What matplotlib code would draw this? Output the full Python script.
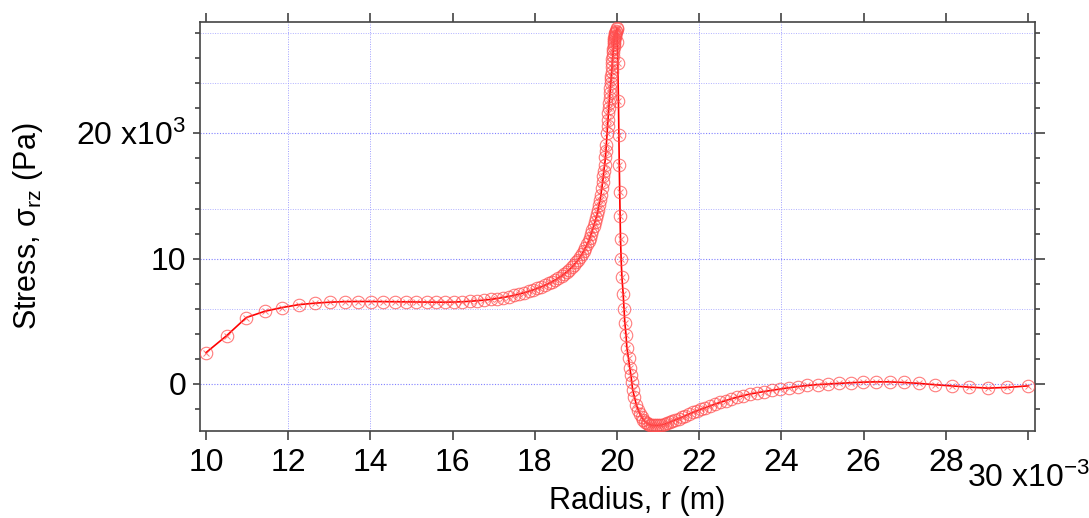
import numpy as np
import matplotlib.pyplot as plt
from matplotlib.ticker import MultipleLocator, FixedLocator

plt.rcParams['font.family'] = ['Liberation Sans', 'DejaVu Sans']
plt.rcParams['mathtext.default'] = 'regular'

# radius (x10^-3 m) and shear stress (x10^3 Pa)
r_left = [10.00, 10.50, 10.98, 11.43, 11.85, 12.26, 12.65, 13.02, 13.37, 13.70,
          14.01, 14.31, 14.60, 14.87, 15.12, 15.37, 15.60, 15.82, 16.03, 16.23,
          16.42, 16.59, 16.76, 16.93, 17.08, 17.23, 17.36, 17.49, 17.62, 17.74,
          17.85, 17.96, 18.06, 18.15, 18.25, 18.34, 18.42, 18.50, 18.57, 18.65,
          18.71, 18.78, 18.84, 18.90, 18.95, 19.01, 19.06, 19.10, 19.15, 19.19,
          19.23, 19.27, 19.31, 19.34, 19.37, 19.40, 19.43, 19.46, 19.49, 19.52,
          19.54, 19.56, 19.59, 19.61, 19.63, 19.65, 19.67, 19.68, 19.70, 19.72,
          19.73, 19.74, 19.76, 19.77, 19.78, 19.79, 19.80, 19.81, 19.82, 19.83,
          19.84, 19.85, 19.86, 19.865, 19.87, 19.88, 19.885, 19.89, 19.90, 19.905,
          19.91, 19.915, 19.92, 19.925, 19.93, 19.935, 19.94, 19.945, 19.95, 19.96,
          19.97, 19.98, 19.99, 20.00]
s_left = [2.50, 3.85, 5.30, 5.80, 6.10, 6.33, 6.45, 6.53, 6.57, 6.58,
          6.58, 6.57, 6.56, 6.55, 6.54, 6.53, 6.53, 6.53, 6.54, 6.56,
          6.60, 6.64, 6.69, 6.75, 6.82, 6.90, 6.98, 7.07, 7.17, 7.28,
          7.39, 7.51, 7.63, 7.75, 7.88, 8.02, 8.16, 8.31, 8.46, 8.62,
          8.78, 8.95, 9.13, 9.32, 9.51, 9.72, 9.93, 10.15, 10.38, 10.62,
          10.87, 11.13, 11.40, 11.68, 11.97, 12.27, 12.58, 12.90, 13.23, 13.57,
          13.92, 14.28, 14.65, 15.10, 15.60, 16.10, 16.60, 17.00, 17.50, 18.10,
          18.60, 19.10, 20.00, 20.60, 21.10, 21.60, 22.00, 22.40, 22.80, 23.20,
          23.60, 24.00, 24.30, 24.60, 24.90, 25.30, 25.60, 25.90, 26.20, 26.50,
          26.70, 26.90, 27.10, 27.30, 27.45, 27.60, 27.70, 27.80, 27.90, 28.00,
          28.10, 28.20, 28.30, 28.40]

r_right = [20.01, 20.02, 20.035, 20.045, 20.055, 20.065, 20.075, 20.085, 20.10, 20.12,
           20.15, 20.17, 20.19, 20.22, 20.24, 20.28, 20.31, 20.34, 20.36, 20.38,
           20.42, 20.47, 20.52, 20.56, 20.60, 20.64, 20.68, 20.72, 20.76, 20.80,
           20.85, 20.90, 20.95, 21.00, 21.05, 21.10, 21.16, 21.22, 21.28, 21.35,
           21.42, 21.50, 21.58, 21.66, 21.75, 21.85, 21.94, 22.04, 22.15, 22.26,
           22.38, 22.51, 22.64, 22.77, 22.92, 23.07, 23.24, 23.41, 23.58, 23.77,
           23.97, 24.18, 24.40, 24.63, 24.88, 25.13, 25.40, 25.69, 25.99, 26.30,
           26.63, 26.98, 27.35, 27.74, 28.15, 28.57, 29.02, 29.50, 30.00]
s_right = [27.3, 25.6, 22.6, 19.9, 17.5, 15.3, 13.4, 11.6, 10.0, 8.5,
           7.2, 6.0, 4.9, 3.9, 2.9, 2.05, 1.3, 0.7, 0.15, -0.45,
           -1.0, -1.65, -2.1, -2.4, -2.65, -2.85, -3.0, -3.1, -3.18, -3.24,
           -3.28, -3.30, -3.31, -3.30, -3.28, -3.25, -3.20, -3.13, -3.05, -2.96,
           -2.86, -2.76, -2.65, -2.53, -2.40, -2.27, -2.14, -2.02, -1.88, -1.75,
           -1.61, -1.47, -1.33, -1.19, -1.06, -0.93, -0.80, -0.70, -0.60, -0.50,
           -0.40, -0.30, -0.20, -0.12, -0.05, 0.00, 0.05, 0.10, 0.15, 0.17,
           0.17, 0.12, 0.05, -0.06, -0.15, -0.25, -0.33, -0.27, -0.15]

radius = np.array(r_left + r_right)
stress = np.array(s_left + s_right)

x_ticks = [10, 12, 14, 16, 18, 20, 22, 24, 26, 28, 30]
x_labels = ['10', '12', '14', '16', '18', '20', '22', '24', '26', '28', '']
y_ticks = [0, 10, 20]
y_labels = ['0', '10', '20 x10$^{3}$']

# Igor-style dotted grid, only some lines show up in the original
hgrid_strong = [0, 10, 20]
hgrid_faint = [6, 14, 24, 28]
vgrid = [12, 14, 22, 24]

W, H = 1089, 518
fig = plt.figure(figsize=(W / 100, H / 100), dpi=100)
ax = fig.add_axes([200 / W, 87 / H, 835 / W, 409 / H])

for g in hgrid_strong:
    ax.axhline(g, color='#8080ff', lw=0.8, ls=(0, (1, 1.5)), zorder=0)
for g in hgrid_faint:
    ax.axhline(g, color='#b0b0ff', lw=0.7, ls=(0, (1, 1.5)), zorder=0)
for g in vgrid:
    ax.axvline(g, color='#a0a0ff', lw=0.7, ls=(0, (1, 1.5)), zorder=0)

ax.plot(radius, stress, color='red', lw=1.2, zorder=3)
ax.plot(radius, stress, ls='none', marker='o', ms=9, mfc='none',
        mec='#ff5050', mew=0.8, alpha=0.75, zorder=4)
ax.plot(radius, stress, ls='none', marker='x', ms=4.5,
        mec='#ff5050', mew=0.7, alpha=0.75, zorder=4)

ax.set_xlim(9.854, 30.17)
ax.set_ylim(-3.75, 28.88)

ax.xaxis.set_major_locator(FixedLocator(x_ticks))
ax.set_xticklabels(x_labels)
ax.yaxis.set_major_locator(FixedLocator(y_ticks))
ax.set_yticklabels(y_labels)
ax.yaxis.set_minor_locator(MultipleLocator(2))

ax.tick_params(axis='x', which='major', direction='out', length=6.5, width=1.1,
               color='#333333', labelsize=23, pad=6)
ax.tick_params(axis='y', which='major', direction='out', length=5, width=1.1,
               color='#333333', labelsize=23, pad=5)
ax.tick_params(axis='y', which='minor', direction='out', length=3.6, width=1.1,
               color='#333333')

for s in ax.spines.values():
    s.set_color('#444444')
    s.set_linewidth(1.2)

top = ax.secondary_xaxis('top')
top.xaxis.set_major_locator(FixedLocator(x_ticks))
top.tick_params(direction='out', length=6.5, width=1.1, color='#333333', labeltop=False)
top.spines['top'].set_visible(False)

right = ax.secondary_yaxis('right')
right.yaxis.set_major_locator(FixedLocator(y_ticks))
right.yaxis.set_minor_locator(MultipleLocator(2))
right.tick_params(which='major', direction='out', length=7.2, width=1.1,
                  color='#333333', labelright=False)
right.tick_params(which='minor', direction='out', length=3.6, width=1.1,
                  color='#333333')
right.spines['right'].set_visible(False)

ax.annotate('30 x10$^{-3}$', xy=(30, 0), xycoords=('data', 'axes fraction'),
            xytext=(0, -40.5), textcoords='offset points',
            ha='center', va='baseline', fontsize=23)

ax.set_ylabel('Stress, $\\sigma_{rz}$ (Pa)', fontsize=22)
ax.yaxis.set_label_coords(-0.186, 0.5)
fig.text(637 / W, 1 - 501 / H, 'Radius, r (m)', fontsize=22, ha='center', va='center')

fig.savefig('out.png', dpi=100)
